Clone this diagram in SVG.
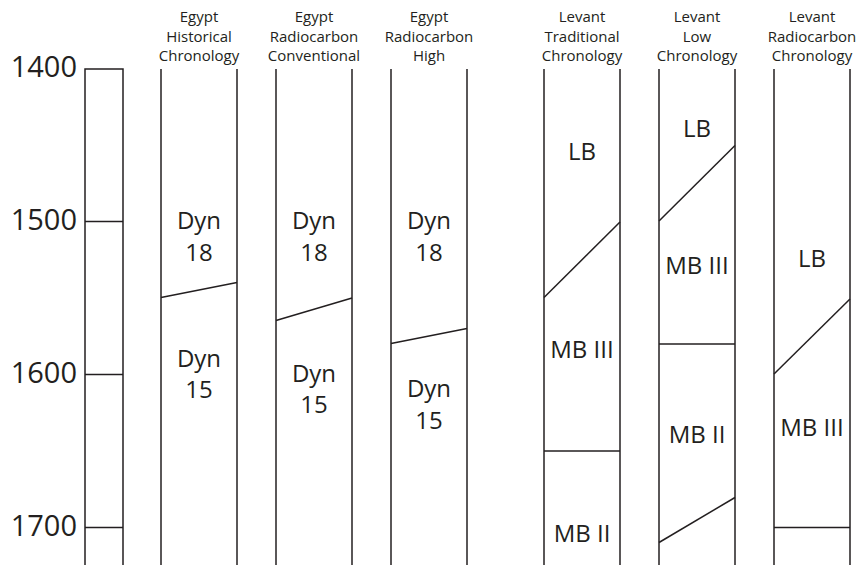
<svg xmlns="http://www.w3.org/2000/svg" width="856" height="565" viewBox="0 0 856 565">
<style>
line, polyline { stroke: #231f20; stroke-width: 1.5; fill: none; }
text { font-family: "Open Sans", "Noto Sans", sans-serif; fill: #231f20; text-anchor: middle; }
.year { font-size: 29px; text-anchor: end; }
.hdr { font-size: 15px; }
.lbl { font-size: 24px; }
</style>
<rect width="856" height="565" fill="#ffffff"/>
<g id="axis">
  <polyline points="85,565 85,69 123,69 123,565"/>
  <line x1="85" y1="221.5" x2="123" y2="221.5"/>
  <line x1="85" y1="374.5" x2="123" y2="374.5"/>
  <line x1="85" y1="527.5" x2="123" y2="527.5"/>
  <text class="year" x="77" y="77">1400</text>
  <text class="year" x="77" y="230">1500</text>
  <text class="year" x="77" y="383">1600</text>
  <text class="year" x="77" y="536">1700</text>
</g>
<g id="egypt-historical">
  <line x1="161" y1="69" x2="161" y2="565"/>
  <line x1="237" y1="69" x2="237" y2="565"/>
  <text class="hdr" x="199" y="22">Egypt</text>
  <text class="hdr" x="199" y="41.5">Historical</text>
  <text class="hdr" x="199" y="61">Chronology</text>
  <text class="lbl" x="199" y="229">Dyn</text>
  <text class="lbl" x="199" y="261">18</text>
  <text class="lbl" x="199" y="367">Dyn</text>
  <text class="lbl" x="199" y="398">15</text>
</g>
<g id="egypt-rc-conventional">
  <line x1="276" y1="69" x2="276" y2="565"/>
  <line x1="352" y1="69" x2="352" y2="565"/>
  <text class="hdr" x="314" y="22">Egypt</text>
  <text class="hdr" x="314" y="41.5">Radiocarbon</text>
  <text class="hdr" x="314" y="61">Conventional</text>
  <text class="lbl" x="314" y="229">Dyn</text>
  <text class="lbl" x="314" y="261">18</text>
  <text class="lbl" x="314" y="382">Dyn</text>
  <text class="lbl" x="314" y="413">15</text>
</g>
<g id="egypt-rc-high">
  <line x1="391" y1="69" x2="391" y2="565"/>
  <line x1="467" y1="69" x2="467" y2="565"/>
  <text class="hdr" x="429" y="22">Egypt</text>
  <text class="hdr" x="429" y="41.5">Radiocarbon</text>
  <text class="hdr" x="429" y="61">High</text>
  <text class="lbl" x="429" y="229">Dyn</text>
  <text class="lbl" x="429" y="261">18</text>
  <text class="lbl" x="429" y="397">Dyn</text>
  <text class="lbl" x="429" y="429">15</text>
</g>
<g id="levant-traditional">
  <line x1="544" y1="69" x2="544" y2="565"/>
  <line x1="620" y1="69" x2="620" y2="565"/>
  <text class="hdr" x="582" y="22">Levant</text>
  <text class="hdr" x="582" y="41.5">Traditional</text>
  <text class="hdr" x="582" y="61">Chronology</text>
  <text class="lbl" x="582" y="160">LB</text>
  <text class="lbl" x="582" y="358">MB III</text>
  <text class="lbl" x="582" y="542">MB II</text>
</g>
<g id="levant-low">
  <line x1="659" y1="69" x2="659" y2="565"/>
  <line x1="735" y1="69" x2="735" y2="565"/>
  <text class="hdr" x="697" y="22">Levant</text>
  <text class="hdr" x="697" y="41.5">Low</text>
  <text class="hdr" x="697" y="61">Chronology</text>
  <text class="lbl" x="697" y="137">LB</text>
  <text class="lbl" x="697" y="274">MB III</text>
  <text class="lbl" x="697" y="443">MB II</text>
</g>
<g id="levant-radiocarbon">
  <line x1="774" y1="69" x2="774" y2="565"/>
  <line x1="850" y1="69" x2="850" y2="565"/>
  <text class="hdr" x="812" y="22">Levant</text>
  <text class="hdr" x="812" y="41.5">Radiocarbon</text>
  <text class="hdr" x="812" y="61">Chronology</text>
  <text class="lbl" x="812" y="267">LB</text>
  <text class="lbl" x="812" y="436">MB III</text>
</g>
<g id="connectors">
  <line x1="161" y1="297.5" x2="237" y2="282.5"/>
  <line x1="276" y1="320.5" x2="352" y2="298"/>
  <line x1="391" y1="343.5" x2="467" y2="328.5"/>
  <line x1="544" y1="297.5" x2="620" y2="222"/>
  <line x1="544" y1="451" x2="620" y2="451"/>
  <line x1="659" y1="221" x2="735" y2="145.5"/>
  <line x1="659" y1="344" x2="735" y2="344"/>
  <line x1="659" y1="542.5" x2="735" y2="497.5"/>
  <line x1="774" y1="374" x2="850" y2="299"/>
  <line x1="774" y1="527.5" x2="850" y2="527.5"/>
</g>
</svg>
